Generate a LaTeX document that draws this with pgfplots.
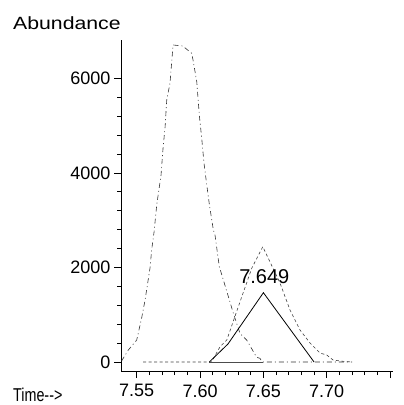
\documentclass[border=0pt]{standalone}
\usepackage{graphicx}
\usepackage{pgfplots}
\pgfplotsset{compat=1.18}
\usepackage{fontspec}
\setmainfont{Liberation Sans}
\begin{document}
\begin{tikzpicture}
\useasboundingbox (0,0) rectangle (404bp,405bp);
\begin{axis}[
  at={(121bp,34bp)}, anchor=south west,
  scale only axis, width=272bp, height=331bp,
  xmin=7.5376, xmax=7.7523, ymin=-190, ymax=6810,
  axis lines=left,
  axis line style={-, line width=0.9bp, black},
  xtick={7.55,7.60,7.65,7.70,7.75},
  xticklabels={7.55,7.60,7.65,7.70,{}},
  ytick={0,2000,4000,6000},
  yticklabels={0,2000,4000,6000},
  minor x tick num=4, minor y tick num=4,
  tick align=outside,
  major tick length=7bp, minor tick length=4bp,
  tick style={black, line width=0.7bp},
  ticklabel style={font=\fontsize{18bp}{20bp}\selectfont},
  xticklabel style={yshift=-3bp},
  clip=false,
]
% large dash-dot peak
\addplot[black!80, line width=0.6bp, dash pattern=on 5bp off 3bp on 1bp off 3bp] coordinates {
(7.538,20) (7.5434,254) (7.55,465) (7.5539,931) (7.5566,1311) (7.5605,1988)
(7.5618,2369) (7.5637,2750) (7.5658,3321) (7.5692,3955) (7.5708,4526)
(7.5724,4970) (7.5737,5541) (7.5763,5901) (7.5787,6705) (7.5863,6683)
(7.5934,6529) (7.5947,6351) (7.5974,5928) (7.5994,5224) (7.6013,4738)
(7.6031,4209) (7.6053,3744) (7.6074,3321) (7.6105,2792) (7.6118,2686)
(7.6152,2016) (7.6184,1734) (7.6263,1030) (7.6315,607) (7.6368,465)
(7.6447,99) (7.6473,78) (7.649,0) (7.72,0)
};
% dashed peak
\addplot[black!75, line width=0.6bp, dash pattern=on 3bp off 2.5bp] coordinates {
(7.555,0) (7.609,0) (7.6158,324) (7.6211,465) (7.6302,1170) (7.6408,1982)
(7.6495,2439) (7.6631,1671) (7.671,1100) (7.6789,677) (7.6868,402)
(7.6947,190) (7.7,148) (7.705,42) (7.7129,15) (7.72,0)
};
% baseline of solid peak
\addplot[black!70, line width=0.9bp] coordinates {(7.6073,0) (7.6497,0)};
% solid peak
\addplot[black, line width=0.8bp] coordinates {
(7.6073,0) (7.622,380) (7.65,1466) (7.69,0)
};
\node[anchor=base, font=\fontsize{20bp}{22bp}\selectfont, inner sep=0pt] at (axis cs:7.6507,1656) {7.649};
\end{axis}
\node[anchor=base west, inner sep=0pt, font=\fontsize{17.7bp}{20bp}\selectfont] at (13bp,375bp) {\scalebox{1.2}[1]{Abundance}};
\node[anchor=base west, inner sep=0pt, font=\fontsize{18.6bp}{20bp}\selectfont] at (13bp,4bp) {\scalebox{0.77}[1]{Time\mbox{-}\mbox{-}>}};
\end{tikzpicture}
\end{document}
